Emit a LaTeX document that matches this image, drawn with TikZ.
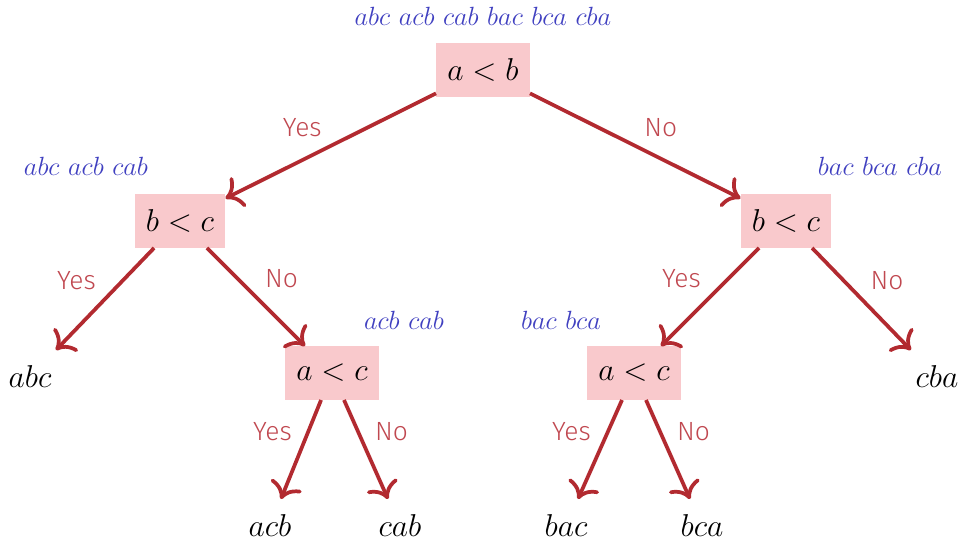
\documentclass[tikz,border=0pt]{standalone}
\usepackage{fontspec}
\setsansfont{Fira Sans}[UprightFont=* Light]
\usetikzlibrary{arrows.meta}
\definecolor{boxpink}{RGB}{249,201,204}
\definecolor{edgered}{RGB}{178,42,48}
\definecolor{labelred}{RGB}{192,72,80}
\definecolor{setblue}{RGB}{64,64,192}
\tikzset{
  >={Computer Modern Rightarrow[scale=1.35]},
  px/.style={x=0.016cm, y=-0.016cm},
  test/.style={fill=boxpink, inner sep=5pt, minimum height=0.85cm, font=\Large},
  leaf/.style={inner sep=5pt, minimum height=0.85cm, minimum width=1.45cm, font=\Large},
  perms/.style={text=setblue, font=\large},
  branch/.style={->, edgered, line width=1.7pt},
  answer/.style={text=labelred, font=\large\sffamily},
}

\begin{document}
\begin{tikzpicture}[px]
  \useasboundingbox (0,0) rectangle (962,538);
  % comparisons
  \node[test] (ab) at (483,70) {$a<b$};
  \node[test] (bcL) at (180,221) {$b<c$};
  \node[test] (bcR) at (786,221) {$b<c$};
  \node[test] (acL) at (332,373) {$a<c$};
  \node[test] (acR) at (634,373) {$a<c$};
  % orderings at the leaves
  \node[leaf] (abc) at (30,377) {$abc$};
  \node[leaf] (cba) at (937,377) {$cba$};
  \node[leaf] (acb) at (270,526) {$acb$};
  \node[leaf] (cab) at (400,526) {$cab$};
  \node[leaf] (bac) at (566,526) {$bac$};
  \node[leaf] (bca) at (702,526) {$bca$};
  % remaining permutations
  \node[perms] (setab) at (483,16) {$abc\ acb\ cab\ bac\ bca\ cba$};
  \node[perms] (setbcL) at (86,166) {$abc\ acb\ cab$};
  \node[perms] (setbcR) at (880,166) {$bac\ bca\ cba$};
  \node[perms] (setacL) at (404,320) {$acb\ cab$};
  \node[perms] (setacR) at (561,320) {$bac\ bca$};
  % branches
  \draw[branch] (ab) -- node[answer, above left] {Yes} (bcL);
  \draw[branch] (ab) -- node[answer, above right] {No} (bcR);
  \draw[branch] (bcL) -- node[answer, above left] {Yes} (abc);
  \draw[branch] (bcL) -- node[answer, above right] {No} (acL);
  \draw[branch] (bcR) -- node[answer, above left] {Yes} (acR);
  \draw[branch] (bcR) -- node[answer, above right] {No} (cba);
  \draw[branch] (acL) -- node[answer, above left] {Yes} (acb);
  \draw[branch] (acL) -- node[answer, above right] {No} (cab);
  \draw[branch] (acR) -- node[answer, above left] {Yes} (bac);
  \draw[branch] (acR) -- node[answer, above right] {No} (bca);
\end{tikzpicture}
\end{document}
